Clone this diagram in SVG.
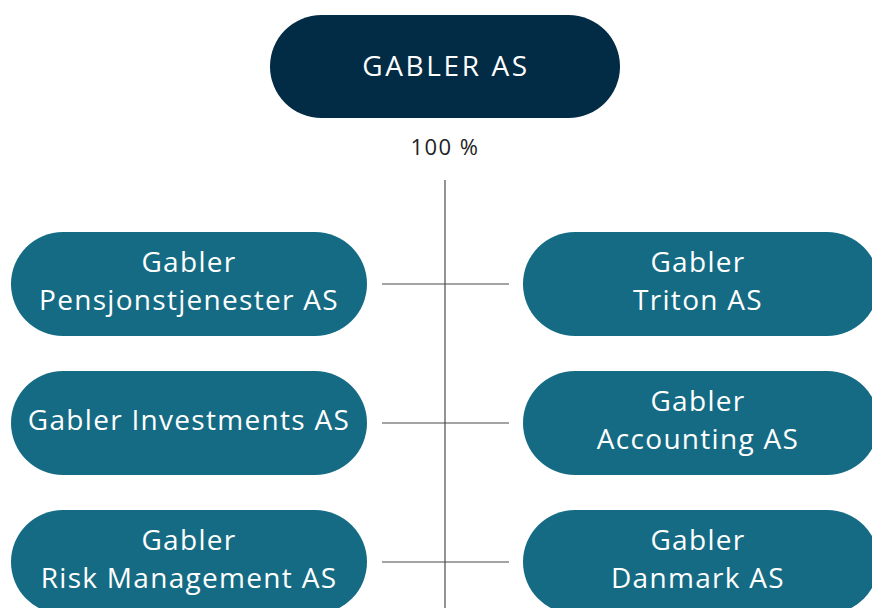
<svg xmlns="http://www.w3.org/2000/svg" width="872" height="608" viewBox="0 0 872 608">
<style>
.top{fill:#022b45}
.node{fill:#146b83}
.lbl{font-family:"Open Sans","Liberation Sans",sans-serif;font-size:28px;letter-spacing:1.3px;fill:#ffffff;text-anchor:middle}
.lbl.cap{letter-spacing:2.6px}
.pct{font-family:"Open Sans","Liberation Sans",sans-serif;font-size:22px;letter-spacing:1.5px;fill:#222222;text-anchor:middle}
.conn line{stroke:#4a4a4a;stroke-width:1.2}
</style>
<rect width="872" height="608" fill="#ffffff"/>
<g id="gabler-as">
<rect class="top" x="270" y="15" width="350" height="103" rx="51.5"/>
<text class="lbl cap" x="446" y="76">GABLER AS</text>
</g>
<text class="pct" x="445" y="155">100 %</text>
<g class="conn" id="connectors">
<line x1="445" y1="180" x2="445" y2="608"/>
<line x1="382" y1="284" x2="509" y2="284"/>
<line x1="382" y1="423" x2="509" y2="423"/>
<line x1="382" y1="562" x2="509" y2="562"/>
</g>
<g id="pensjonstjenester">
<rect class="node" x="11" y="232" width="356" height="104" rx="52"/>
<text class="lbl" x="189" y="272">Gabler</text>
<text class="lbl" x="189" y="310">Pensjonstjenester AS</text>
</g>
<g id="investments">
<rect class="node" x="11" y="371" width="356" height="104" rx="52"/>
<text class="lbl" x="189" y="430">Gabler Investments AS</text>
</g>
<g id="risk-management">
<rect class="node" x="11" y="510" width="356" height="104" rx="52"/>
<text class="lbl" x="189" y="550">Gabler</text>
<text class="lbl" x="189" y="588">Risk Management AS</text>
</g>
<g id="triton">
<rect class="node" x="523" y="232" width="356" height="104" rx="52"/>
<text class="lbl" x="698" y="272">Gabler</text>
<text class="lbl" x="698" y="310">Triton AS</text>
</g>
<g id="accounting">
<rect class="node" x="523" y="371" width="356" height="104" rx="52"/>
<text class="lbl" x="698" y="411">Gabler</text>
<text class="lbl" x="698" y="449">Accounting AS</text>
</g>
<g id="danmark">
<rect class="node" x="523" y="510" width="356" height="104" rx="52"/>
<text class="lbl" x="698" y="550">Gabler</text>
<text class="lbl" x="698" y="588">Danmark AS</text>
</g>
</svg>
